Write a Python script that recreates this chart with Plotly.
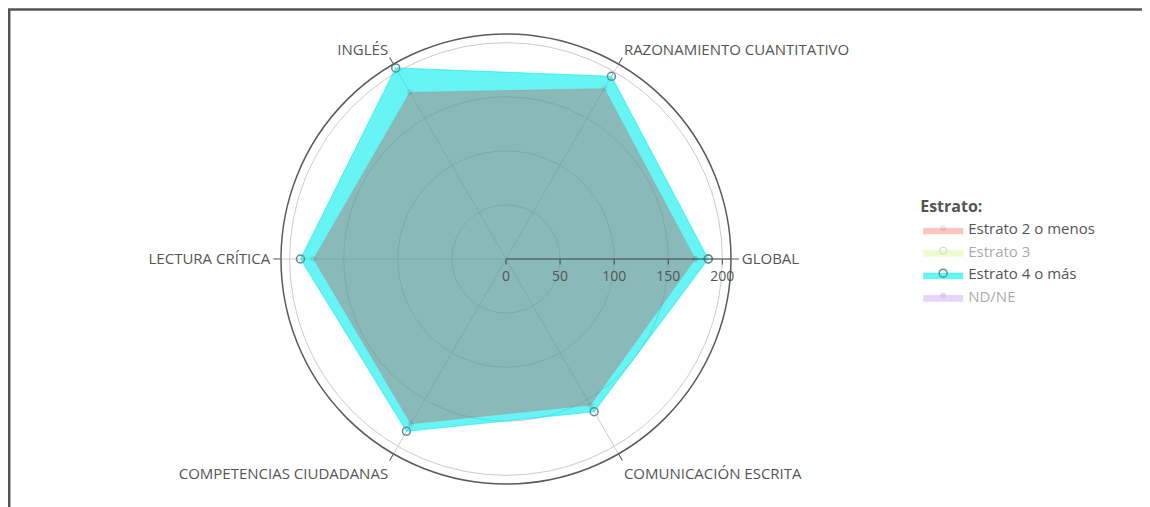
import plotly.graph_objects as go

categories = ["GLOBAL", "RAZONAMIENTO CUANTITATIVO", "INGLÉS", "LECTURA CRÍTICA",
              "COMPETENCIAS CIUDADANAS", "COMUNICACIÓN ESCRITA"]
estrato_2_menos = [175, 182, 178, 178, 176, 156]
estrato_3 = [None] * 6
estrato_4_mas = [187, 195, 204, 190, 184, 163]
nd_ne = [None] * 6
radial_ticks = [0, 50, 100, 150, 200]

def closed(vals):
    return list(vals) + [vals[0]]

theta = closed(categories)

fig = go.Figure()

# cyan drawn first so the red layer sits on top (legend order fixed with legendrank)
fig.add_trace(go.Scatterpolar(
    r=closed(estrato_4_mas), theta=theta, name="Estrato 4 o más",
    mode="lines+markers", fill="toself",
    fillcolor="rgba(0,236,238,0.6)",
    line=dict(color="rgba(0,236,238,0.6)", width=1),
    marker=dict(symbol="circle-open", size=8, color="#5f8f8f", line=dict(width=1.5)),
    legendrank=3,
))
fig.add_trace(go.Scatterpolar(
    r=closed(estrato_2_menos), theta=theta, name="Estrato 2 o menos",
    mode="lines+markers", fill="toself",
    fillcolor="rgba(255,0,0,0.24)",
    line=dict(color="rgba(255,0,0,0.08)", width=1),
    marker=dict(symbol="circle", size=6, color="rgba(110,110,110,0.15)"),
    legendrank=1,
))
fig.add_trace(go.Scatterpolar(
    r=estrato_3, theta=categories, name="Estrato 3",
    mode="lines+markers", fill="toself",
    fillcolor="rgba(200,240,100,0.6)",
    line=dict(color="rgba(200,240,100,0.6)", width=1),
    marker=dict(symbol="circle-open", size=7, color="#9ab070"),
    visible="legendonly", legendrank=2,
))
fig.add_trace(go.Scatterpolar(
    r=nd_ne, theta=categories, name="ND/NE",
    mode="lines+markers", fill="toself",
    fillcolor="rgba(170,120,240,0.6)",
    line=dict(color="rgba(170,120,240,0.6)", width=1),
    marker=dict(symbol="circle", size=6, color="rgba(170,120,240,0.6)"),
    visible="legendonly", legendrank=4,
))

# page body has an 8px margin, so the figure starts at (8, 8)
W, H = 1142, 499
cx, cy, R = 498, 251, 225

fig.update_layout(
    width=W, height=H,
    margin=dict(l=0, r=0, t=0, b=0),
    paper_bgcolor="white",
    font=dict(family="Open Sans, sans-serif", color="#555", size=13),
    polar=dict(
        domain=dict(x=[(cx - R) / W, (cx + R) / W],
                    y=[(H - cy - R) / H, (H - cy + R) / H]),
        bgcolor="white",
        angularaxis=dict(
            type="category", categoryarray=categories,
            rotation=0, direction="counterclockwise",
            linecolor="#5a5a5a", linewidth=1.5,
            gridcolor="#cfcfcf", gridwidth=1,
            ticks="outside", ticklen=7, tickcolor="#555",
            tickfont=dict(size=15, color="#555"),
        ),
        radialaxis=dict(
            range=[0, 208], angle=0, tickangle=0,
            tickvals=radial_ticks,
            showline=True, linecolor="#444", linewidth=1,
            gridcolor="#d8c8c8", gridwidth=1,
            ticks="outside", ticklen=5, tickcolor="#444",
            tickfont=dict(size=14, color="#555"),
        ),
    ),
    legend=dict(
        x=0.797, y=0.633, xanchor="left", yanchor="top",
        title=dict(text="<b>Estrato:</b>", font=dict(size=16, color="#555")),
        font=dict(size=15, color="#555"),
        tracegroupgap=0, itemwidth=40,
    ),
    shapes=[dict(type="rect", xref="paper", yref="paper",
                 x0=1.2 / W, x1=1.02, y0=-0.05, y1=(H - 1.5) / H,
                 line=dict(color="#555", width=2.5), fillcolor="rgba(0,0,0,0)",
                 layer="above")],
)

fig.write_html("out.html")
